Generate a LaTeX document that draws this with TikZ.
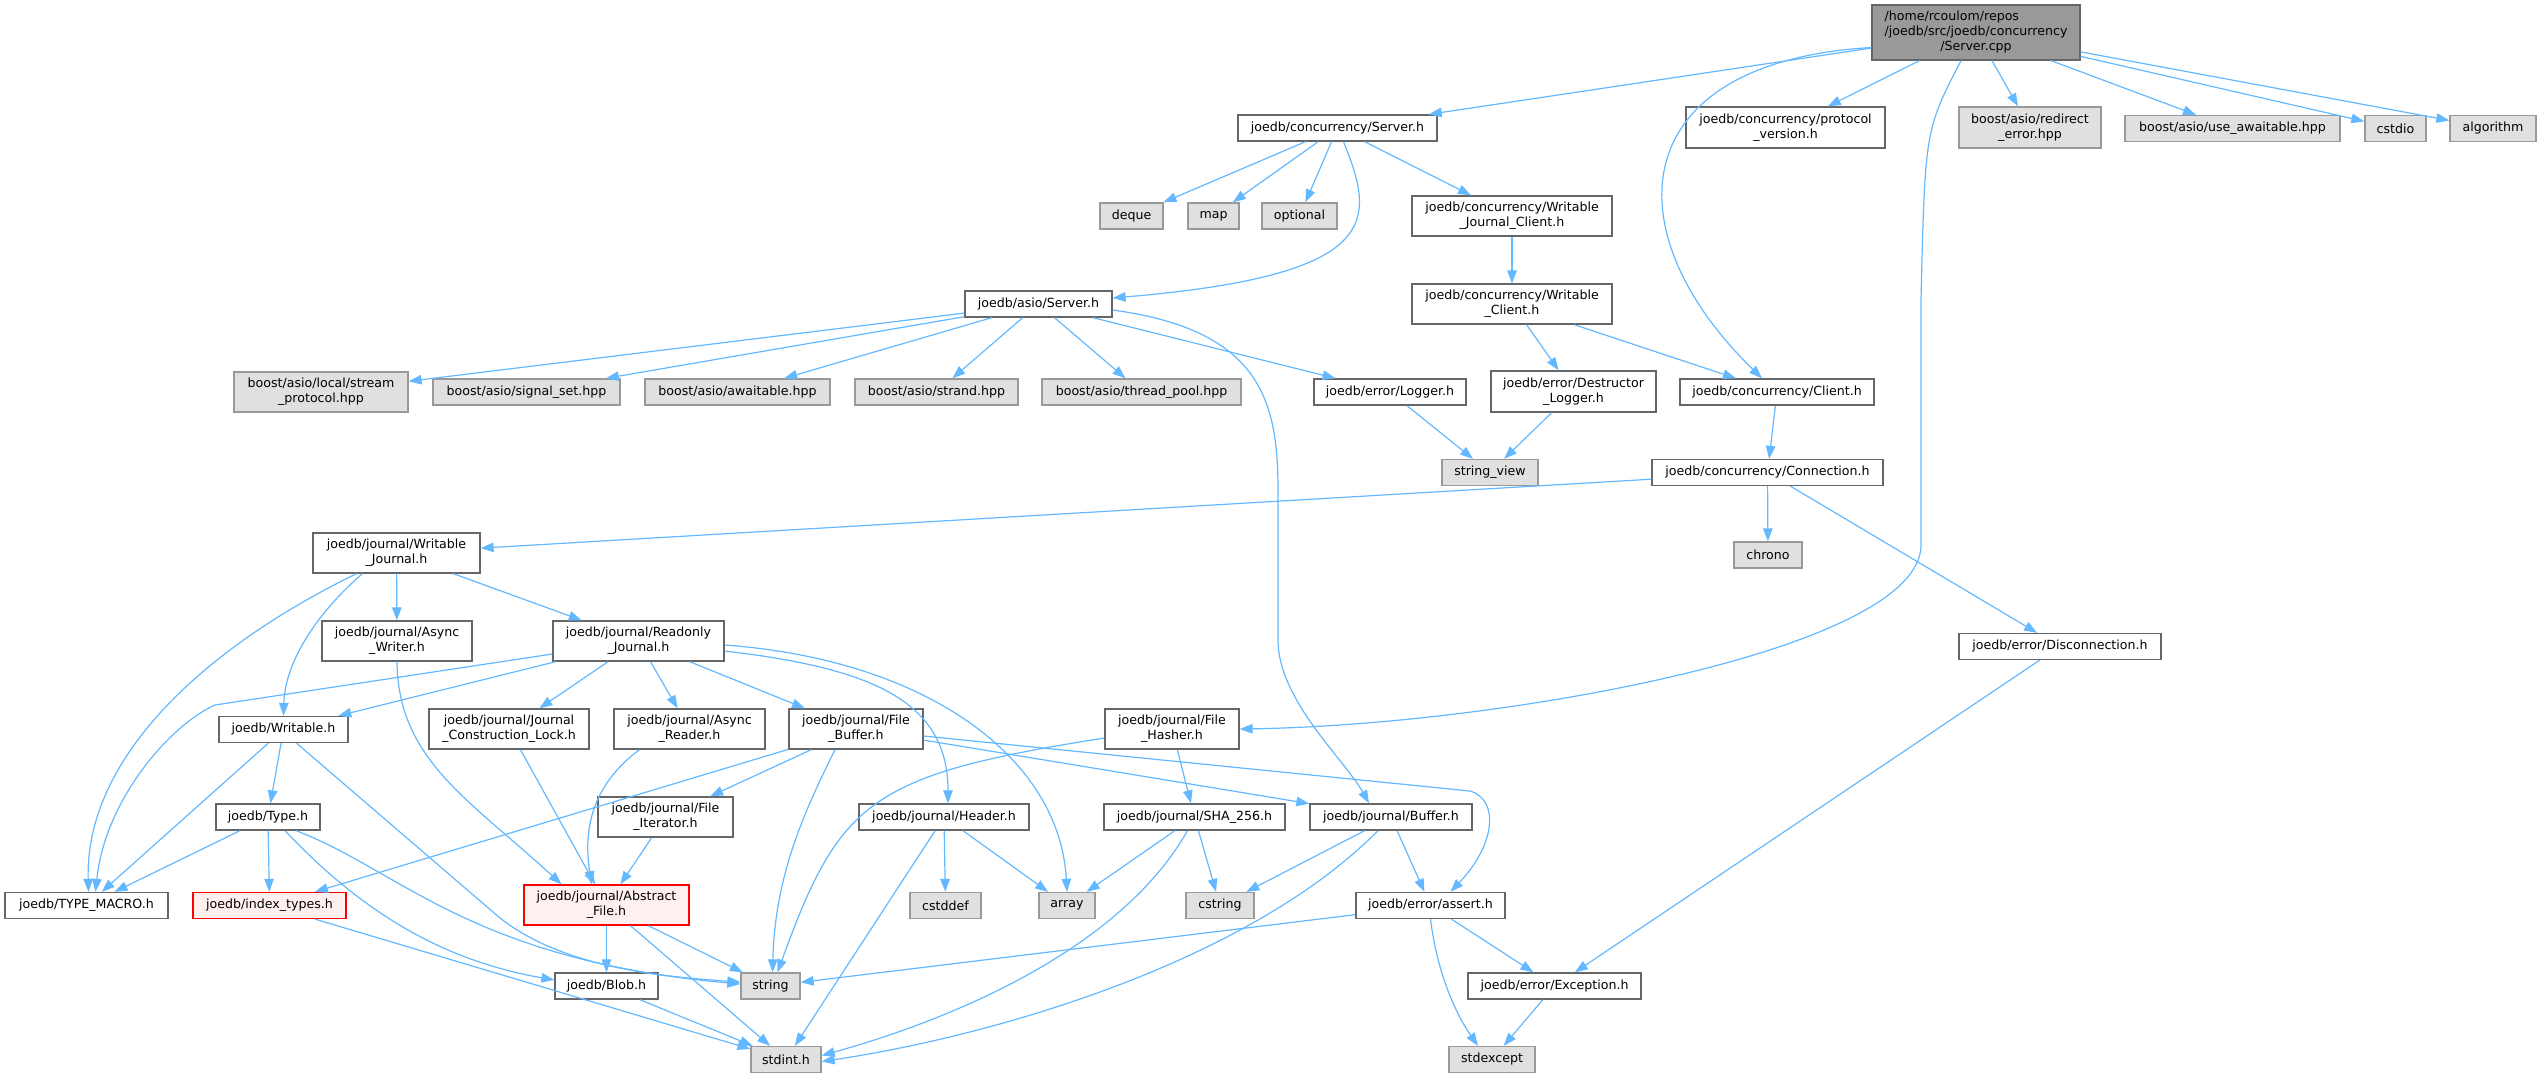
\documentclass[tikz,border=0pt]{standalone}
\usepackage{fontspec}
\setmainfont{DejaVu Sans}
\usetikzlibrary{arrows.meta}
\definecolor{edgeblue}{HTML}{63B8FF}
\definecolor{boxgray}{HTML}{666666}
\definecolor{sysdraw}{HTML}{999999}
\definecolor{sysfill}{HTML}{E0E0E0}
\definecolor{mainfill}{HTML}{999999}
\definecolor{redfill}{HTML}{FFF0F0}

\begin{document}
\begin{tikzpicture}[x=1pt,y=-1pt]
\tikzset{FileStyle/.style =
		{shape = rectangle,
		draw = boxgray,
		fill = white,
		line width = 1.3pt,
		inner sep = 0pt,
		minimum height = 26pt,
		align = center,
		font = {\fontsize{12.6}{15}\selectfont}},
	SysStyle/.style = {FileStyle, draw = sysdraw, fill = sysfill},
	MainStyle/.style = {FileStyle, fill = mainfill},
	BadStyle/.style = {FileStyle, draw = red, fill = redfill},
	EdgeStyle/.style = {color = edgeblue, line width = 1.2pt,
		-{Triangle[length=13pt,width=9.5pt]}}}
	\useasboundingbox (0,0) rectangle (2541,1077);

	\node[MainStyle, minimum width=208pt, minimum height=55pt] (ServerCpp) at (1976,32.5)
		{\rlap{/home/rcoulom/repos}\phantom{/joedb/src/joedb/concurrency}\\/joedb/src/joedb/concurrency\\/Server.cpp};
	\node[FileStyle, minimum width=199pt] (ConcServer) at (1337.5,128) {joedb/concurrency/Server.h};
	\node[FileStyle, minimum width=199pt, minimum height=41pt] (ProtoVersion) at (1785.5,127.5) {joedb/concurrency/protocol\\\_version.h};
	\node[SysStyle, minimum width=142pt, minimum height=41pt] (RedirectError) at (2030,127.5) {boost/asio/redirect\\\_error.hpp};
	\node[SysStyle, minimum width=215pt] (UseAwaitable) at (2232.5,128.5) {boost/asio/use\_awaitable.hpp};
	\node[SysStyle, minimum width=61pt] (Cstdio) at (2395.5,128.5) {cstdio};
	\node[SysStyle, minimum width=86pt] (Algorithm) at (2493,128.5) {algorithm};

	\node[SysStyle, minimum width=63pt] (Deque) at (1131.5,216) {deque};
	\node[SysStyle, minimum width=51pt] (Map) at (1213.5,216) {map};
	\node[SysStyle, minimum width=75pt] (Optional) at (1299.5,216) {optional};
	\node[FileStyle, minimum width=200pt, minimum height=40pt] (WJClient) at (1512,216) {joedb/concurrency/Writable\\\_Journal\_Client.h};
	\node[FileStyle, minimum width=200pt, minimum height=40pt] (WClient) at (1512,304) {joedb/concurrency/Writable\\\_Client.h};
	\node[FileStyle, minimum width=147pt] (AsioServer) at (1038.5,304) {joedb/asio/Server.h};

	\node[SysStyle, minimum width=174pt, minimum height=40pt] (StreamProto) at (321,392) {boost/asio/local/stream\\\_protocol.hpp};
	\node[SysStyle, minimum width=187pt] (SignalSet) at (526.5,392) {boost/asio/signal\_set.hpp};
	\node[SysStyle, minimum width=185pt] (Awaitable) at (737.5,392) {boost/asio/awaitable.hpp};
	\node[SysStyle, minimum width=163pt] (Strand) at (936.5,392) {boost/asio/strand.hpp};
	\node[SysStyle, minimum width=199pt] (ThreadPool) at (1141.5,392) {boost/asio/thread\_pool.hpp};
	\node[FileStyle, minimum width=152pt] (Logger) at (1390,392) {joedb/error/Logger.h};
	\node[FileStyle, minimum width=165pt, minimum height=41pt] (DLogger) at (1573.5,391.5) {joedb/error/Destructor\\\_Logger.h};
	\node[FileStyle, minimum width=194pt] (Client) at (1777,392) {joedb/concurrency/Client.h};

	\node[SysStyle, minimum width=96pt] (StringView) at (1490,472.5) {string\_view};
	\node[FileStyle, minimum width=231pt] (Connection) at (1767.5,472.5) {joedb/concurrency/Connection.h};
	\node[FileStyle, minimum width=167pt, minimum height=40pt] (WJournal) at (396.5,553) {joedb/journal/Writable\\\_Journal.h};
	\node[SysStyle, minimum width=68pt] (Chrono) at (1768,555) {chrono};
	\node[FileStyle, minimum width=150pt, minimum height=40pt] (AWriter) at (397,641) {joedb/journal/Async\\\_Writer.h};
	\node[FileStyle, minimum width=171pt, minimum height=40pt] (RJournal) at (638.5,641) {joedb/journal/Readonly\\\_Journal.h};
	\node[FileStyle, minimum width=202pt] (Disconnection) at (2060,646.5) {joedb/error/Disconnection.h};

	\node[FileStyle, minimum width=129pt] (Writable) at (283.5,729.5) {joedb/Writable.h};
	\node[FileStyle, minimum width=160pt, minimum height=40pt] (JCLock) at (509,729) {joedb/journal/Journal\\\_Construction\_Lock.h};
	\node[FileStyle, minimum width=151pt, minimum height=40pt] (AReader) at (689.5,729) {joedb/journal/Async\\\_Reader.h};
	\node[FileStyle, minimum width=134pt, minimum height=40pt] (FBuffer) at (856,729) {joedb/journal/File\\\_Buffer.h};
	\node[FileStyle, minimum width=134pt, minimum height=40pt] (FHasher) at (1172,729) {joedb/journal/File\\\_Hasher.h};

	\node[FileStyle, minimum width=104pt] (Type) at (268,817) {joedb/Type.h};
	\node[FileStyle, minimum width=135pt, minimum height=40pt] (FIterator) at (665.5,817) {joedb/journal/File\\\_Iterator.h};
	\node[FileStyle, minimum width=170pt] (Header) at (944,817) {joedb/journal/Header.h};
	\node[FileStyle, minimum width=181pt] (SHA) at (1194.5,817) {joedb/journal/SHA\_256.h};
	\node[FileStyle, minimum width=162pt] (Buffer) at (1391,817) {joedb/journal/Buffer.h};

	\node[FileStyle, minimum width=163pt] (TypeMacro) at (86.5,905.5) {joedb/TYPE\_MACRO.h};
	\node[BadStyle, minimum width=153pt] (IndexTypes) at (269.5,905.5) {joedb/index\_types.h};
	\node[BadStyle, minimum width=165pt, minimum height=40pt] (AFile) at (606.5,905) {joedb/journal/Abstract\\\_File.h};
	\node[SysStyle, minimum width=71pt] (Cstddef) at (945.5,905.5) {cstddef};
	\node[SysStyle, minimum width=56pt] (Array) at (1067,905.5) {array};
	\node[SysStyle, minimum width=68pt] (Cstring) at (1220,905.5) {cstring};
	\node[FileStyle, minimum width=149pt] (Assert) at (1430.5,905.5) {joedb/error/assert.h};

	\node[FileStyle, minimum width=103pt] (Blob) at (606.5,986) {joedb/Blob.h};
	\node[SysStyle, minimum width=59pt] (String) at (770.5,986) {string};
	\node[FileStyle, minimum width=173pt] (Exception) at (1554.5,986) {joedb/error/Exception.h};
	\node[SysStyle, minimum width=70pt] (Stdint) at (786,1059.5) {stdint.h};
	\node[SysStyle, minimum width=86pt] (Stdexcept) at (1492,1059.5) {stdexcept};

	%straight edges
	\path[EdgeStyle] (ServerCpp) edge (ConcServer) edge (ProtoVersion) edge (RedirectError)
		edge (UseAwaitable) edge (Cstdio) edge (Algorithm);
	\path[EdgeStyle] (ConcServer) edge (Deque) edge (Map) edge (Optional) edge (WJClient);
	\path[EdgeStyle] (WJClient) edge (WClient);
	\path[EdgeStyle] (WClient) edge (DLogger) edge (Client);
	\path[EdgeStyle] (Client) edge (Connection);
	\path[EdgeStyle] (Connection) edge (WJournal) edge (Chrono) edge (Disconnection);
	\path[EdgeStyle] (Disconnection) edge (Exception);
	\path[EdgeStyle] (AsioServer) edge (StreamProto) edge (SignalSet) edge (Awaitable)
		edge (Strand) edge (ThreadPool) edge (Logger);
	\path[EdgeStyle] (Logger) edge (StringView);
	\path[EdgeStyle] (DLogger) edge (StringView);
	\path[EdgeStyle] (WJournal) edge (AWriter) edge (RJournal);
	\path[EdgeStyle] (RJournal) edge (Writable) edge (JCLock) edge (AReader) edge (FBuffer);
	\path[EdgeStyle] (Writable) edge (TypeMacro) edge (Type);
	\path[EdgeStyle] (Type) edge (TypeMacro) edge (IndexTypes);
	\path[EdgeStyle] (JCLock) edge (AFile);
	\path[EdgeStyle] (FIterator) edge (AFile);
	\path[EdgeStyle] (FBuffer) edge (IndexTypes) edge (FIterator) edge (Buffer);
	\path[EdgeStyle] (FHasher) edge (SHA);
	\path[EdgeStyle] (Header) edge (Cstddef) edge (Array) edge (Stdint);
	\path[EdgeStyle] (SHA) edge (Array) edge (Cstring);
	\path[EdgeStyle] (Buffer) edge (Cstring) edge (Assert);
	\path[EdgeStyle] (IndexTypes) edge (Stdint);
	\path[EdgeStyle] (AFile) edge (Blob) edge (String) edge (Stdint);
	\path[EdgeStyle] (Assert) edge (String) edge (Exception);
	\path[EdgeStyle] (Blob) edge (Stdint);
	\path[EdgeStyle] (Exception) edge (Stdexcept);

	%curved edges
	\draw[EdgeStyle] ([yshift=-15pt]ServerCpp.west) .. controls (1625,62) and (1610,230) .. ([xshift=-15pt]Client.north);
	\draw[EdgeStyle] ([xshift=-15pt]ServerCpp.south) .. controls (1925,130) .. (1921,300) -- (1921,545)
		.. controls (1921,650) and (1500,725) .. (FHasher.east);
	\draw[EdgeStyle] ([xshift=6pt]ConcServer.south) .. controls (1375,220) and (1385,275) .. ([yshift=6pt]AsioServer.east);
	\draw[EdgeStyle] ([yshift=-6pt]AsioServer.east) .. controls (1260,330) and (1278,400) .. (1278,490) -- (1278,640)
		.. controls (1278,700) and (1345,760) .. ([xshift=-22pt]Buffer.north);
	\draw[EdgeStyle] ([xshift=-40pt]WJournal.south) .. controls (200,650) and (85,760) .. ([xshift=2pt]TypeMacro.north);
	\draw[EdgeStyle] ([xshift=-34pt]WJournal.south) .. controls (320,610) and (285,660) .. (Writable.north);
	\draw[EdgeStyle] ([yshift=-13pt]RJournal.west) -- (215,705) .. controls (170,725) and (105,800) .. ([xshift=9pt]TypeMacro.north);
	\draw[EdgeStyle] ([yshift=-10pt]RJournal.east) .. controls (870,668) and (948,700) .. ([xshift=4pt]Header.north);
	\draw[EdgeStyle] ([yshift=-4pt]RJournal.east) .. controls (930,660) and (1060,760) .. (Array.north);
	\draw[EdgeStyle] (AWriter.south) .. controls (398,760) and (470,800) .. ([xshift=-45pt]AFile.north);
	\draw[EdgeStyle] ([xshift=-50pt]AReader.south) .. controls (585,790) and (585,840) .. ([xshift=-15pt]AFile.north);
	\draw[EdgeStyle] ([xshift=13pt]Writable.south) -- (500,918) .. controls (560,965) and (650,976) .. ([yshift=4pt]String.west);
	\draw[EdgeStyle] ([xshift=17pt]Type.south) .. controls (360,910) and (440,960) .. ([yshift=6pt]Blob.west);
	\draw[EdgeStyle] ([xshift=28pt]Type.south) .. controls (400,870) and (470,960) .. ([yshift=2pt]String.west);
	\draw[EdgeStyle] ([xshift=-21pt]FBuffer.south) .. controls (800,820) and (775,880) .. ([xshift=2pt]String.north);
	\draw[EdgeStyle] ([yshift=-7pt]FBuffer.east) -- (1470,791) .. controls (1500,800) and (1495,845) .. ([xshift=20pt]Assert.north);
	\draw[EdgeStyle] ([yshift=-9pt]FHasher.west) .. controls (870,775) and (840,800) .. ([xshift=7pt]String.north);
	\draw[EdgeStyle] ([xshift=-7pt]SHA.south) .. controls (1120,950) and (950,1020) .. ([yshift=4pt]Stdint.east);
	\draw[EdgeStyle] ([xshift=-13pt]Buffer.south) .. controls (1250,960) and (1000,1035) .. ([yshift=-2pt]Stdint.east);
	\draw[EdgeStyle] (Assert.south) .. controls (1438,980) and (1460,1020) .. ([xshift=-14pt]Stdexcept.north);
\end{tikzpicture}
\end{document}
